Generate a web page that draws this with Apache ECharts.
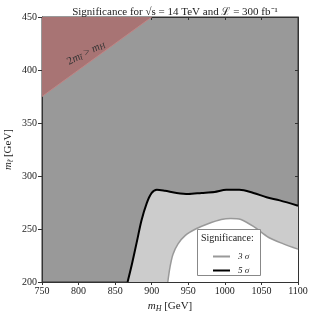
<!DOCTYPE html>
<html><head><meta charset="utf-8">
<script src="https://cdn.jsdelivr.net/npm/echarts@6/dist/echarts.min.js"></script>
<style>html,body{margin:0;padding:0;background:#fff}#c{width:314px;height:318px}</style>
</head><body><div id="c"></div>
<script>
const xTicks = [750, 1100, 50];
const yTicks = [200, 450, 50];
const sig5 = [[867,200],[873,217],[880,239],[886,258],[893,274],[900,284],[907,287],[918,286],[934,284],[950,283],[968,284],[986,285],[1002,287],[1020,287],[1039,284],[1057,280],[1075,277],[1100,272]];
const sig3 = [[922,200],[925,214],[929,226],[936,236],[946,244],[960,250],[977,255],[995,259],[1008,260],[1022,259],[1040,252],[1060,242],[1080,236],[1100,231]];
const kinLimit = [[750,375],[900,450]];
const F = 'Liberation Serif';
const chart = echarts.init(document.getElementById('c'));
const axisCommon = {
  axisLine:{lineStyle:{color:'#333',width:1}},
  splitLine:{show:false}
};
const richName = {i:{fontFamily:F,fontStyle:'italic',fontSize:11,color:'#222'},s:{fontFamily:F,fontStyle:'italic',fontSize:8,color:'#222',padding:[5,0,0,0]}};
chart.setOption({
  animation:false,
  title:{text:'Significance for √s = 14 TeV and ℒ = 300 fb⁻¹', left:170, textAlign:'center', top:2,
    textStyle:{fontFamily:F,fontSize:11,fontWeight:'normal',color:'#222'}},
  grid:{left:42,right:16,top:17,bottom:36,show:true,backgroundColor:'#999999',borderColor:'#333',borderWidth:1,containLabel:false,outerBoundsMode:'none'},
  xAxis:[
    Object.assign({type:'value',min:xTicks[0],max:xTicks[1],interval:xTicks[2],
      name:'{i|m}{s|H} [GeV]',nameLocation:'middle',nameGap:17,
      nameTextStyle:{fontFamily:F,fontSize:11,color:'#222',rich:richName},
      axisTick:{length:3,lineStyle:{color:'#333'}},
      axisLabel:{fontFamily:F,fontSize:10,color:'#222',margin:4,formatter:v=>String(v)}},axisCommon),
    Object.assign({type:'value',position:'top',min:xTicks[0],max:xTicks[1],interval:xTicks[2],
      axisTick:{inside:true,length:3,lineStyle:{color:'#333'}},axisLabel:{show:false}},axisCommon)
  ],
  yAxis:[
    Object.assign({type:'value',min:yTicks[0],max:yTicks[1],interval:yTicks[2],
      name:'{i|m}{s|t̃} [GeV]',nameLocation:'middle',nameGap:27,nameRotate:90,nameMoveOverlap:false,
      nameTextStyle:{fontFamily:F,fontSize:11,color:'#222',rich:richName},
      axisTick:{length:4,lineStyle:{color:'#333'}},
      axisLabel:{fontFamily:F,fontSize:10,color:'#222',margin:5,formatter:v=>String(v)}},axisCommon),
    Object.assign({type:'value',position:'right',min:yTicks[0],max:yTicks[1],interval:yTicks[2],
      axisTick:{inside:true,length:3,lineStyle:{color:'#333'}},axisLabel:{show:false}},axisCommon)
  ],
  legend:{left:208,top:247,orient:'vertical',itemGap:5,icon:'rect',itemWidth:17,itemHeight:2,z:120,zlevel:0,
    textStyle:{fontFamily:F,fontSize:9,fontStyle:'italic',color:'#222',padding:[0,0,0,3]},
    data:[{name:'3 σ',itemStyle:{color:'#999'}},{name:'5 σ',itemStyle:{color:'#000'}}]},
  graphic:[
    {type:'rect',left:197,top:229,shape:{width:63,height:46},style:{fill:'#fff',stroke:'#888',lineWidth:1},z:10},
    {type:'text',left:201,top:233,style:{text:'Significance:',font:'10px "Liberation Serif"',fill:'#222'},z:11},
    {type:'text',x:86,y:53,rotation:27*Math.PI/180,style:{
      text:'{n|2}{i|m}{s|t̃}{n| > }{i|m}{s|H}',align:'center',verticalAlign:'middle',
      rich:{n:{fontFamily:F,fontSize:11,fill:'#333'},i:{fontFamily:F,fontStyle:'italic',fontSize:11,fill:'#333'},s:{fontFamily:F,fontStyle:'italic',fontSize:8,fill:'#333',padding:[4,0,0,0]}}},z:50}
  ],
  series:[
    {name:'5 σ',type:'line',data:sig5,smooth:0.3,symbol:'none',z:2,
      lineStyle:{color:'#000',width:2},areaStyle:{color:'#cccccc',opacity:1,origin:'start'}},
    {name:'3 σ',type:'line',data:sig3,smooth:0.3,symbol:'none',z:3,
      lineStyle:{color:'#999',width:1.5},areaStyle:{color:'#ffffff',opacity:1,origin:'start'}},
    {name:'kin',type:'line',data:kinLimit,symbol:'none',z:4,
      lineStyle:{color:'#c08585',width:1},areaStyle:{color:'#a87474',opacity:1,origin:'end'}}
  ]
});
</script></body></html>
